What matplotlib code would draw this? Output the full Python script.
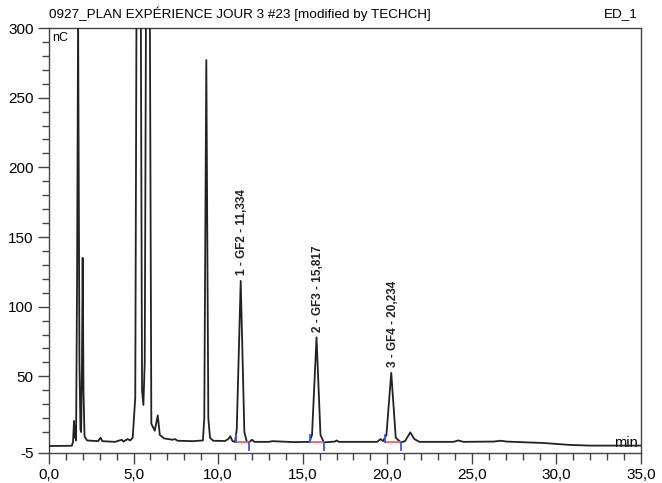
import numpy as np
import matplotlib.pyplot as plt
from matplotlib.ticker import MultipleLocator, FuncFormatter, FixedLocator

plt.rcParams['font.family'] = ['Liberation Sans', 'DejaVu Sans']

# chromatogram trace, vertices (min, nC)
trace_time = [0.0, 1.35, 1.42, 1.48, 1.52, 1.56, 1.60, 1.66, 1.72, 1.80, 1.86, 1.90,
              1.95, 1.99, 2.04, 2.10, 2.25, 2.90, 3.05, 3.15, 3.90, 4.30, 4.40, 4.65,
              4.80, 4.95, 5.10, 5.30, 5.50, 5.58, 5.66, 5.85, 6.05, 6.25, 6.43, 6.55,
              6.80, 7.30, 7.45, 7.60, 8.50, 9.10, 9.18, 9.30, 9.42, 9.52, 9.70, 10.40,
              10.60, 10.72, 10.85, 11.00, 11.10, 11.334, 11.55, 11.70, 11.85, 12.00,
              12.15, 13.00, 13.20, 14.50, 15.40, 15.55, 15.817, 16.05, 16.25, 16.90,
              17.00, 17.15, 19.40, 19.60, 19.75, 19.95, 20.234, 20.50, 20.80, 21.05,
              21.36, 21.60, 21.90, 23.90, 24.20, 24.50, 26.30, 26.70, 27.05, 29.20,
              30.80, 32.00, 35.00]
trace_nc = [0.0, 0.2, 3, 18, 6, 14, 4, 120, 310, 60, 12, 10,
            60, 135, 40, 7, 4, 3.5, 6, 3.5, 3, 4.5, 3.2, 5,
            4, 6, 35, 800, 40, 29.5, 60, 700, 16, 11, 22, 8,
            5.5, 4.5, 5, 3.8, 3.5, 4, 20, 277, 20, 6, 3.8, 3.6,
            5, 7, 3.5, 3, 12, 118.5, 10, 2.8, 3, 4.5,
            3, 3.0, 3.5, 2.8, 3, 8, 78, 8, 2.6, 3.2,
            4, 3, 3, 5, 3.5, 8, 52.5, 6, 2.6, 3.5,
            9.8, 5, 3, 3, 4, 3, 3.2, 3.8, 3.2, 2.2,
            0.8, 0.3, 0.3]

# labelled peaks
peak_labels = ['1 - GF2 - 11,334', '2 - GF3 - 15,817', '3 - GF4 - 20,234']
peak_rt = [11.334, 15.817, 20.234]
peak_height = [118.5, 78, 52.5]

# integration baselines
integ_start = [11.04, 15.44, 19.88]
integ_end = [11.80, 16.23, 20.81]
integ_level = [2.6, 2.6, 2.6]

fig = plt.figure(figsize=(6.62, 4.83), dpi=100)
ax = fig.add_axes([49/662, 1-453/483, (641-49)/662, (453-28)/483])

ax.plot(trace_time, trace_nc, color='#222222', lw=1.3, zorder=3)

for s, e, lv in zip(integ_start, integ_end, integ_level):
    ax.plot([s, e], [lv, lv], color='#ff5a5a', lw=1.3, zorder=4)
    ax.plot([s, s], [lv, lv + 5.5], color='#3355ff', lw=1.3, zorder=5)
    ax.plot([e, e], [lv, lv - 5.5], color='#3355ff', lw=1.3, zorder=5)

for lab, rt, h in zip(peak_labels, peak_rt, peak_height):
    ax.annotate(lab, xy=(rt, h), xytext=(1.2, 4), textcoords='offset points',
                rotation=90, ha='center', va='bottom', fontsize=8.5, fontweight='bold',
                color='#222222')

ax.set_xlim(0, 35)
ax.set_ylim(-5, 300)

ax.xaxis.set_major_locator(MultipleLocator(5))
ax.xaxis.set_minor_locator(MultipleLocator(1))
ax.xaxis.set_major_formatter(FuncFormatter(lambda v, p: f'{v:.1f}'.replace('.', ',')))
ax.yaxis.set_major_locator(FixedLocator([-5, 50, 100, 150, 200, 250, 300]))
ax.yaxis.set_minor_locator(FixedLocator([v for v in range(10, 300, 10) if v % 50]))
ax.yaxis.set_major_formatter(FuncFormatter(lambda v, p: f'{v:.0f}'))

ax.tick_params(which='major', length=8, width=1, color='#444444', labelsize=11, pad=3)
ax.tick_params(which='minor', length=5, width=1, color='#444444')
for sp in ax.spines.values():
    sp.set_color('#444444')
    sp.set_linewidth(1)

ax.text(0.006, 0.99, 'nC', transform=ax.transAxes, ha='left', va='top', fontsize=9)
ax.text(34.1, 2.2, 'min', ha='center', va='center', fontsize=10.5, zorder=2)

fig.text(49/662, 1-14/483, '0927_PLAN EXPÉRIENCE JOUR 3 #23 [modified by TECHCH]',
         ha='left', va='center', fontsize=9.7)
fig.text(638/662, 1-14/483, 'ED_1', ha='right', va='center', fontsize=9.7)

fig.savefig('out.png', dpi=100)
